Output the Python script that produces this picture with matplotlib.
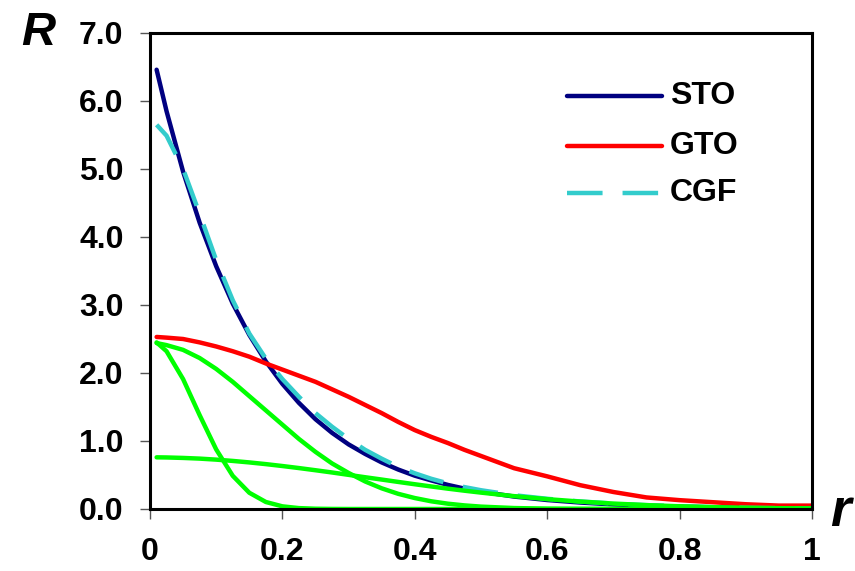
import matplotlib.pyplot as plt

# radial distance r (sampled points)
r = [0.01, 0.025, 0.05, 0.075, 0.1, 0.125, 0.15, 0.175, 0.2, 0.225, 0.25,
     0.275, 0.3, 0.325, 0.35, 0.375, 0.4, 0.425, 0.45, 0.475, 0.5,
     0.55, 0.6, 0.65, 0.7, 0.75, 0.8, 0.85, 0.9, 0.95, 1.0]

sto = [6.46, 5.85, 4.96, 4.21, 3.57, 3.02, 2.56, 2.17, 1.84, 1.56, 1.32,
       1.12, 0.95, 0.81, 0.685, 0.58, 0.49, 0.42, 0.354, 0.30, 0.255,
       0.183, 0.132, 0.095, 0.068, 0.049, 0.035, 0.025, 0.018, 0.013, 0.009]

gto = [2.53, 2.52, 2.50, 2.45, 2.39, 2.32, 2.24, 2.14, 2.05, 1.96, 1.87,
       1.76, 1.65, 1.53, 1.41, 1.28, 1.16, 1.06, 0.97, 0.87, 0.78,
       0.60, 0.48, 0.35, 0.25, 0.17, 0.13, 0.10, 0.07, 0.05, 0.05]

cgf = [5.65, 5.49, 5.00, 4.34, 3.66, 3.07, 2.58, 2.21, 1.91, 1.65, 1.41,
       1.21, 1.03, 0.87, 0.74, 0.62, 0.525, 0.444, 0.377, 0.322, 0.276,
       0.203, 0.150, 0.111, 0.080, 0.057, 0.040, 0.027, 0.018, 0.012, 0.008]

# the three primitive gaussians
g1 = [2.45, 2.32, 1.91, 1.38, 0.876, 0.488, 0.239, 0.103, 0.039, 0.013, 0.004,
      0.001, 0, 0, 0, 0, 0, 0, 0, 0, 0,
      0, 0, 0, 0, 0, 0, 0, 0, 0, 0]
g2 = [2.44, 2.41, 2.34, 2.22, 2.06, 1.87, 1.66, 1.45, 1.24, 1.03, 0.84,
      0.67, 0.53, 0.405, 0.304, 0.223, 0.161, 0.113, 0.078, 0.053, 0.035,
      0.014, 0.005, 0.002, 0, 0, 0, 0, 0, 0, 0]
g3 = [0.76, 0.758, 0.751, 0.741, 0.726, 0.707, 0.685, 0.660, 0.632, 0.602, 0.570,
      0.537, 0.502, 0.467, 0.433, 0.398, 0.364, 0.331, 0.299, 0.269, 0.241,
      0.189, 0.145, 0.109, 0.080, 0.057, 0.040, 0.027, 0.018, 0.012, 0.008]

x_ticks = [0, 0.2, 0.4, 0.6, 0.8, 1.0]
x_labels = ['0', '0.2', '0.4', '0.6', '0.8', '1']
y_ticks = [0, 1, 2, 3, 4, 5, 6, 7]

plt.rcParams['font.family'] = ['Liberation Sans', 'DejaVu Sans']

fig = plt.figure(figsize=(8.55, 5.71), dpi=100)
ax = fig.add_axes([150 / 855, 62 / 571, 662 / 855, 476 / 571])

ax.plot(r, sto, color='#000080', lw=3.2, solid_capstyle='round')
ax.plot(r, gto, color='#ff0000', lw=3.2, solid_capstyle='round')
ax.plot(r, cgf, color='#33cccc', lw=3.2, dashes=(8.0, 4.5))
for g in (g1, g2, g3):
    ax.plot(r, g, color='#00ff00', lw=3.2, solid_capstyle='round')

ax.set_xlim(0, 1)
ax.set_ylim(0, 7)
ax.set_xticks(x_ticks)
ax.set_xticklabels(x_labels)
ax.set_yticks(y_ticks)
ax.set_yticklabels([f'{v:.1f}' for v in y_ticks])

for s in ax.spines.values():
    s.set_linewidth(2.2)
    s.set_color('black')

ax.tick_params(axis='both', direction='out', length=7, width=1, color='#555555',
               labelsize=23)
ax.tick_params(axis='x', pad=13)
ax.tick_params(axis='y', pad=12)
for lab in ax.get_xticklabels() + ax.get_yticklabels():
    lab.set_fontweight('bold')

# axis letters
fig.text(38 / 855, 1 - 33 / 571, 'R', fontsize=34, fontweight='bold',
         fontstyle='italic', ha='center', va='center')
fig.text(840 / 855, 1 - 512 / 571, 'r', fontsize=38, fontweight='bold',
         fontstyle='italic', ha='center', va='center')

# legend, drawn in axes coordinates
leg_rows = [('STO', '#000080', None), ('GTO', '#ff0000', None), ('CGF', '#33cccc', (8.0, 4.5))]
leg_y = [0.868, 0.763, 0.664]
for (name, col, dsh), yy in zip(leg_rows, leg_y):
    kw = dict(color=col, lw=3.2, transform=ax.transAxes, solid_capstyle='round')
    if dsh:
        kw['dashes'] = dsh
    ax.plot([0.630, 0.773], [yy, yy], **kw)
    ax.text(0.785, yy, name, transform=ax.transAxes, fontsize=23,
            fontweight='bold', va='center', ha='left')

fig.savefig('out.png', dpi=100)
